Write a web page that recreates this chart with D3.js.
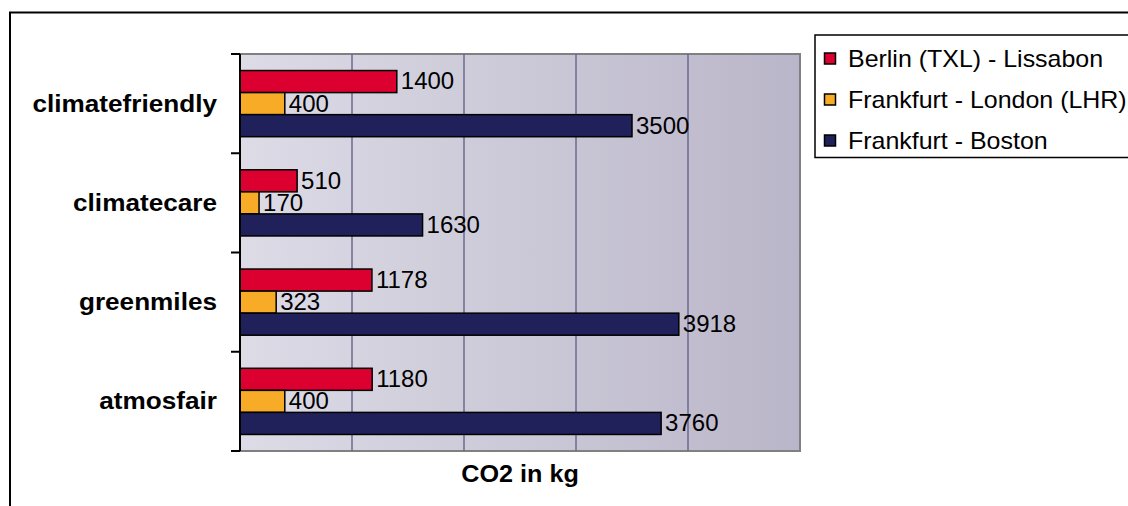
<!DOCTYPE html>
<html><head><meta charset="utf-8">
<script src="https://cdn.jsdelivr.net/npm/d3@7"></script>
<style>body{margin:0;background:#fff}svg{display:block}text{font-family:"Liberation Sans",Arial,sans-serif}</style>
</head><body>
<svg id="c" width="1128" height="506"></svg>
<script>
const categories = ["climatefriendly","climatecare","greenmiles","atmosfair"];
const seriesNames = ["Berlin (TXL) - Lissabon","Frankfurt - London (LHR)","Frankfurt - Boston"];
const seriesColors = ["#dc0030","#f8ab27","#20205a"];
const berlinLissabon = [1400,510,1178,1180];
const frankfurtLondon = [400,170,323,400];
const frankfurtBoston = [3500,1630,3918,3760];
const xTicks = [0,1000,2000,3000,4000,5000];
const axisTitle = "CO2 in kg";

const series = [berlinLissabon, frankfurtLondon, frankfurtBoston];
const svg = d3.select("#c");
const m = {left:240, right:800, top:54, bottom:451};

function stretchedText(parent, x, y, sx, txt){
  return parent.append("g").attr("transform",`translate(${x},${y}) scale(${sx},1)`)
    .append("text").text(txt);
}

// outer frame
svg.append("rect").attr("x",10).attr("y",12.5).attr("width",1130).attr("height",520)
  .attr("fill","#fff").attr("stroke","#000").attr("stroke-width",2);

const defs = svg.append("defs");
const grad = defs.append("linearGradient").attr("id","bg").attr("x1","0").attr("x2","1").attr("y1","0").attr("y2","0");
grad.append("stop").attr("offset","0").attr("stop-color","#dddbe6");
grad.append("stop").attr("offset","1").attr("stop-color","#bab6c9");

const x = d3.scaleLinear().domain([xTicks[0],xTicks[xTicks.length-1]]).range([m.left,m.right]);
const y = d3.scaleBand().domain(categories).range([m.top,m.bottom]).paddingInner(1/3).paddingOuter(1/6);
const yi = d3.scaleBand().domain(d3.range(series.length)).range([0,y.bandwidth()]);

svg.append("rect").attr("x",m.left).attr("y",m.top).attr("width",m.right-m.left).attr("height",m.bottom-m.top)
  .attr("fill","url(#bg)").attr("stroke","#808080").attr("stroke-width",2);

// gridlines
svg.append("g").selectAll("line").data(xTicks.slice(1,-1)).join("line")
  .attr("x1",d=>x(d)).attr("x2",d=>x(d)).attr("y1",m.top).attr("y2",m.bottom)
  .attr("stroke","#6a6a90").attr("stroke-width",1.5);

// bars
const g = svg.append("g");
categories.forEach((c,ci)=>{
  series.forEach((s,si)=>{
    const yy = y(c)+yi(si);
    g.append("rect").attr("x",x(0)).attr("y",yy).attr("width",x(s[ci])-x(0)).attr("height",yi.bandwidth())
      .attr("fill",seriesColors[si]).attr("stroke","#000").attr("stroke-width",1.5);
    g.append("text").attr("x",x(s[ci])+4).attr("y",yy+yi.bandwidth()/2).attr("dy","0.33em")
      .attr("font-size",24).attr("fill","#000").text(s[ci]);
  });
});

// y axis
const yAxisG = svg.append("g");
yAxisG.append("line").attr("x1",m.left).attr("x2",m.left).attr("y1",m.top).attr("y2",m.bottom).attr("stroke","#000").attr("stroke-width",2);
const tickYs = d3.range(categories.length+1).map(i=>m.top + i*(m.bottom-m.top)/categories.length);
yAxisG.selectAll("line.t").data(tickYs).join("line").attr("class","t")
  .attr("x1",m.left-9).attr("x2",m.left).attr("y1",d=>d).attr("y2",d=>d).attr("stroke","#000").attr("stroke-width",2);
categories.forEach(c=>{
  stretchedText(yAxisG, 217, y(c)+y.bandwidth()/2, 1.09, c)
    .attr("dy","0.33em").attr("text-anchor","end").attr("font-size",24).attr("font-weight","bold");
});

// axis title
stretchedText(svg, (m.left+m.right)/2, 482, 1.05, axisTitle)
  .attr("text-anchor","middle").attr("font-size",24).attr("font-weight","bold");

// legend
const lg = svg.append("g");
lg.append("rect").attr("x",815).attr("y",35).attr("width",330).attr("height",122.5).attr("fill","#fff").attr("stroke","#000").attr("stroke-width",1.5);
seriesNames.forEach((n,i)=>{
  const cy = 58.5 + i*41;
  lg.append("rect").attr("x",824.5).attr("y",cy-5.5).attr("width",11).attr("height",11).attr("fill",seriesColors[i]).attr("stroke","#000").attr("stroke-width",1.5);
  stretchedText(lg, 848, cy, 1.04, n).attr("dy","0.35em").attr("font-size",24);
});
</script>
</body></html>
